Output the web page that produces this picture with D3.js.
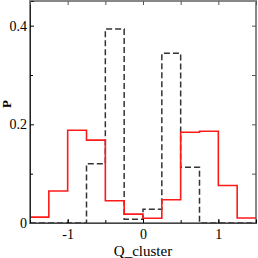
<!DOCTYPE html>
<html>
<head>
<meta charset="utf-8">
<script src="https://cdn.jsdelivr.net/npm/d3@7"></script>
<style>
  body { margin: 0; background: #fff; }
</style>
</head>
<body>
<script>
// bin left edges (width 0.25)
var binStart = [-1.5, -1.25, -1, -0.75, -0.5, -0.25, 0, 0.25, 0.5, 0.75, 1, 1.25];
var binWidth = 0.25;
var redP   = [0.012, 0.065, 0.188, 0.168, 0.045, 0.018, 0.0095, 0.047, 0.184, 0.186, 0.076, 0.01];
var blackP = [0, 0, 0, 0.12, 0.393, 0.0075, 0.028, 0.344, 0.113, 0, 0, 0];
var xTicks = [-1, 0, 1];
var xMinor = [-1.5, -1, -0.5, 0, 0.5, 1, 1.5];
var yTicks = [0, 0.2, 0.4];
var yMinor = [0.1, 0.3];

var serif = "'Liberation Serif', 'DejaVu Serif', serif";

var margin = {top: 1, right: 2, bottom: 35, left: 30};
var width = 258 - margin.left - margin.right, height = 258 - margin.top - margin.bottom;

var x = d3.scaleLinear().domain([-1.5, 1.5]).range([0, width]);
var y = d3.scaleLinear().domain([0, 0.45]).range([height, 0]);

var svg = d3.select("body").append("svg")
            .attr("width", 258)
            .attr("height", 258)
            .append("g")
            .attr("transform", "translate(" + margin.left + "," + margin.top + ")");

function steps(vals) {
    var pts = binStart.map(function(b, i) { return [b, vals[i]]; });
    pts.push([binStart[binStart.length - 1] + binWidth, vals[vals.length - 1]]);
    return pts;
}

var line = d3.line()
    .x(d => x(d[0]))
    .y(d => y(d[1]))
    .curve(d3.curveStepAfter);

// frame (gray top/right)
svg.append("rect")
   .attr("x", 0).attr("y", 0)
   .attr("width", width).attr("height", height)
   .attr("fill", "none")
   .attr("stroke", "#888")
   .attr("stroke-width", 2);

// black dashed histogram
svg.append("path")
   .datum(steps(blackP))
   .attr("d", line)
   .attr("fill", "none")
   .attr("stroke", "#333")
   .attr("stroke-width", 1.5)
   .attr("stroke-dasharray", "6,3");

// red histogram
svg.append("path")
   .datum(steps(redP))
   .attr("d", line)
   .attr("fill", "none")
   .attr("stroke", "#ff1a1a")
   .attr("stroke-width", 1.6);

// left axis
svg.append("g")
   .call(d3.axisLeft(y).tickValues(yTicks).tickSize(-4).tickPadding(3).tickFormat(d => d === 0 ? "0" : d3.format(".1f")(d)))
   .attr("font-family", null)
   .call(g => g.select(".domain").attr("stroke", "#222"))
   .call(g => g.selectAll("text").attr("fill", "#000"));
svg.append("g")
   .call(d3.axisLeft(y).tickValues(yMinor).tickSize(-3).tickFormat(""))
   .call(g => g.select(".domain").remove());
// right ticks
svg.append("g")
   .attr("transform", "translate(" + width + ",0)")
   .call(d3.axisRight(y).tickValues(yTicks.concat(yMinor)).tickSize(-4).tickFormat(""))
   .call(g => g.select(".domain").remove())
   .call(g => g.selectAll("line").attr("stroke", "#555"));

// bottom axis
svg.append("g")
   .attr("transform", "translate(0," + height + ")")
   .call(d3.axisBottom(x).tickValues(xTicks).tickSize(-4).tickPadding(6).tickFormat(d => String(d)))
   .attr("font-family", null)
   .call(g => g.select(".domain").attr("stroke", "#444"))
   .call(g => g.selectAll("text").attr("fill", "#000"));
svg.append("g")
   .attr("transform", "translate(0," + height + ")")
   .call(d3.axisBottom(x).tickValues(xMinor).tickSize(-3).tickFormat(""))
   .call(g => g.select(".domain").remove());
// top ticks
svg.append("g")
   .call(d3.axisTop(x).tickValues(xMinor).tickSize(-4).tickFormat(""))
   .call(g => g.select(".domain").remove())
   .call(g => g.selectAll("line").attr("stroke", "#555"));

// all labels in serif
svg.selectAll(".tick text")
   .attr("font-family", serif)
   .attr("font-size", 14);

// axis titles
svg.append("text")
   .attr("x", width / 2)
   .attr("y", height + 33)
   .attr("text-anchor", "middle")
   .attr("font-family", serif)
   .attr("font-size", 15)
   .text("Q_cluster");

svg.append("text")
   .attr("transform", "translate(-19," + (104 - margin.top) + ") rotate(-90)")
   .attr("text-anchor", "middle")
   .attr("font-family", serif)
   .attr("font-size", 13)
   .attr("font-weight", "bold")
   .text("P");
</script>
</body>
</html>
